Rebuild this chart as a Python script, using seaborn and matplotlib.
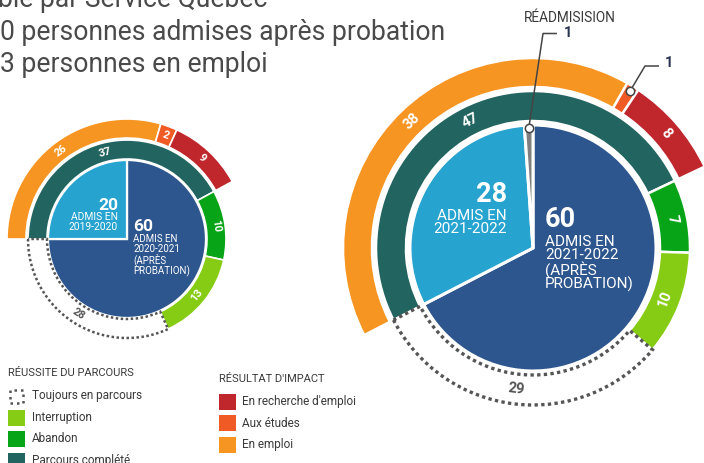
import numpy as np
import matplotlib
matplotlib.use("Agg")
import matplotlib.pyplot as plt
from matplotlib.patches import Rectangle
import seaborn as sns

W, H = 704, 463

# ---------------- data ----------------
title_lines = ["ble par Service Québec",
               "0 personnes admises après probation",
               "3 personnes en emploi"]

small_pie_values = [60, 20]
small_pie_big = ["60", "20"]
small_pie_texts = [["ADMIS EN", "2020-2021", "(APRÈS", "PROBATION)"],
                   ["ADMIS EN", "2019-2020"]]

big_pie_values = [60, 28, 1]
big_pie_big = ["60", "28", "1"]
big_pie_texts = [["ADMIS EN", "2021-2022", "(APRÈS", "PROBATION)"],
                 ["ADMIS EN", "2021-2022"],
                 ["RÉADMISISION"]]

parcours_labels = ["Parcours complété", "Abandon", "Interruption", "Toujours en parcours"]
small_parcours = [37, 10, 13, 28]
big_parcours = [47, 7, 10, 29]

impact_labels = ["En emploi", "Aux études", "En recherche d'emploi"]
small_impact = [26, 2, 9]
big_impact = [38, 1, 8]

# ---------------- style ----------------
sns.set_theme(style="white")
plt.rcParams["font.family"] = ["Roboto", "DejaVu Sans"]

pie_colors = sns.color_palette(["#2E568E", "#27A3D0", "#7F7F7F"])
parcours_colors = ["#22645F", "#08A418", "#87CC14", "white"]
impact_colors = ["#F79523", "#F05A24", "#C0272D"]
DASH = "#555555"
TXT = "#3a3a3a"

fig = plt.figure(figsize=(W / 100, H / 100), dpi=100)
ax = fig.add_axes([0, 0, 1, 1])


def Y(y):
    return H - y


def rot_for(theta):
    t = (theta + 180) % 360 - 180
    return t - 90 if 0 <= t <= 180 else t + 90


def mids(values, start, total):
    cum = np.concatenate([[0], np.cumsum(values)])
    return [start - 360 * (cum[i] + values[i] / 2) / total for i in range(len(values))]


def polar(cx, cy, r, th):
    return cx + r * np.cos(np.radians(th)), Y(cy) + r * np.sin(np.radians(th))


def donut(cx, cy, pie_vals, parc, imp, r_pie, r1, w1, r2, w2,
          pie_lw, ring_lw, dash_lw, fs, skip_impact=()):
    C = (cx, Y(cy))
    ax.pie(pie_vals, colors=pie_colors[:len(pie_vals)], startangle=90,
           counterclock=False, radius=r_pie, center=C, frame=True,
           wedgeprops=dict(edgecolor="white", linewidth=pie_lw))
    start = 90 - 360 * pie_vals[0] / sum(pie_vals)
    total = sum(parc)
    wp, _ = ax.pie(parc, colors=parcours_colors, startangle=start,
                   counterclock=False, radius=r1, center=C, frame=True,
                   wedgeprops=dict(width=w1, edgecolor="white", linewidth=ring_lw))
    d = wp[-1]
    d.set_facecolor("none")
    d.set_edgecolor(DASH)
    d.set_linewidth(dash_lw)
    d.set_linestyle((0, (1, 1)))
    d.set_capstyle("butt")
    ax.pie(np.array(imp) / total, normalize=False, colors=impact_colors,
           startangle=start, counterclock=False, radius=r2, center=C, frame=True,
           wedgeprops=dict(width=w2, edgecolor="white", linewidth=ring_lw))
    for i, (v, th) in enumerate(zip(parc, mids(parc, start, total))):
        x, y = polar(cx, cy, r1 - w1 / 2, th)
        col = DASH if i == len(parc) - 1 else "white"
        ax.text(x, y, str(v), color=col, fontsize=fs, fontweight="bold",
                rotation=rot_for(th), ha="center", va="center",
                rotation_mode="anchor")
    for i, (v, th) in enumerate(zip(imp, mids(imp, start, total))):
        if i in skip_impact:
            continue
        x, y = polar(cx, cy, r2 - w2 / 2, th)
        ax.text(x, y, str(v), color="white", fontsize=fs, fontweight="bold",
                rotation=rot_for(th), ha="center", va="center",
                rotation_mode="anchor")
    return start, total


# ---------------- small chart ----------------
scx, scy = 127, 239
donut(scx, scy, small_pie_values, small_parcours, small_impact,
      r_pie=79, r1=99, w1=19, r2=120, w2=19,
      pie_lw=1.6, ring_lw=1.2, dash_lw=1.8, fs=8)

ax.text(118, Y(210), small_pie_big[1], color="white", fontsize=12.5,
        fontweight="bold", ha="right", va="baseline")
ax.text(118, Y(212), "\n".join(small_pie_texts[1]), color="white", fontsize=7.4,
        ha="right", va="top", multialignment="right", linespacing=0.95)
ax.text(133, Y(231), small_pie_big[0], color="white", fontsize=12.5,
        fontweight="bold", ha="left", va="baseline")
ax.text(133, Y(234.5), "\n".join(small_pie_texts[0]), color="white", fontsize=7.0,
        ha="left", va="top", multialignment="left", linespacing=0.93)

# ---------------- big chart ----------------
bcx, bcy = 533, 248
start, total = donut(bcx, bcy, big_pie_values, big_parcours, big_impact,
                     r_pie=123, r1=157, w1=30, r2=190, w2=29,
                     pie_lw=2.2, ring_lw=1.8, dash_lw=2.4, fs=10.5,
                     skip_impact=(1,))

ax.text(507, Y(202), big_pie_big[1], color="white", fontsize=19.5,
        fontweight="bold", ha="right", va="baseline")
ax.text(507, Y(209.5), "\n".join(big_pie_texts[1]), color="white", fontsize=11,
        ha="right", va="top", multialignment="right", linespacing=0.86)
ax.text(545, Y(227), big_pie_big[0], color="white", fontsize=19.5,
        fontweight="bold", ha="left", va="baseline")
ax.text(545, Y(235), "\n".join(big_pie_texts[0]), color="white", fontsize=11,
        ha="left", va="top", multialignment="left", linespacing=0.92)

# callout: réadmission sliver
pie_tot = sum(big_pie_values)
th_g = 90 - 360 * (big_pie_values[0] + big_pie_values[1] + big_pie_values[2] / 2) / pie_tot
gx, gy = polar(bcx, bcy, 120, th_g)
ax.plot([gx, 543, 557], [gy, Y(33.5), Y(33.5)], color="#444444", lw=1.1,
        solid_capstyle="butt", zorder=5)
ax.plot([gx], [gy], marker="o", ms=6, mfc="white", mec="#444444", mew=1.1, zorder=6)
ax.text(564, Y(33), big_pie_big[2], color="#2b3550", fontsize=10.5,
        fontweight="bold", ha="left", va="center")
ax.text(570, Y(18), big_pie_texts[2][0], color=TXT, fontsize=9.8,
        ha="center", va="center")

# callout: aux études
th_a = mids(big_impact, start, total)[1]
axx, ayy = polar(bcx, bcy, 185, th_a)
ax.plot([axx, 645, 659], [ayy, Y(66), Y(66)], color="#444444", lw=1.1,
        solid_capstyle="butt", zorder=5)
ax.plot([axx], [ayy], marker="o", ms=6, mfc="white", mec="#444444", mew=1.1, zorder=6)
ax.text(665, Y(63), str(big_impact[1]), color="#2b3550", fontsize=10.5,
        fontweight="bold", ha="left", va="center")

# ---------------- title ----------------
for k, (line, base, x0) in enumerate(zip(title_lines, [7, 39.5, 71.5], [-2, 0, 0])):
    ax.text(x0, Y(base), line, color="#4a4a4a", fontsize=19.1,
            ha="left", va="baseline")

# ---------------- legends ----------------
ax.text(8, Y(373), "RÉUSSITE DU PARCOURS", color=TXT, fontsize=8,
        ha="left", va="center")
leg1 = [("Toujours en parcours", None), ("Interruption", parcours_colors[2]),
        ("Abandon", parcours_colors[1]), ("Parcours complété", parcours_colors[0])]
for k, (lab, col) in enumerate(leg1):
    yc = 396 + 21.5 * k
    if col is None:
        r = Rectangle((9.5, Y(yc + 6.5)), 13, 13, facecolor="none",
                      edgecolor=DASH, lw=1.8, linestyle=(0, (1, 1.6)))
    else:
        r = Rectangle((8, Y(yc + 8)), 17, 16, facecolor=col, edgecolor="none")
    ax.add_patch(r)
    ax.text(32, Y(yc), lab, color=TXT, fontsize=8.5, ha="left", va="center")

ax.text(219, Y(379), "RÉSULTAT D'IMPACT", color=TXT, fontsize=8,
        ha="left", va="center")
leg2 = [("En recherche d'emploi", impact_colors[2]),
        ("Aux études", impact_colors[1]),
        ("En emploi", impact_colors[0])]
for k, (lab, col) in enumerate(leg2):
    yc = 401.5 + 21.7 * k
    ax.add_patch(Rectangle((219, Y(yc + 8)), 17, 16, facecolor=col, edgecolor="none"))
    ax.text(242, Y(yc), lab, color=TXT, fontsize=8.5, ha="left", va="center")

ax.set_xlim(0, W)
ax.set_ylim(0, H)
ax.set_aspect("equal")
ax.axis("off")
fig.savefig("out.png", dpi=100, facecolor="white")
